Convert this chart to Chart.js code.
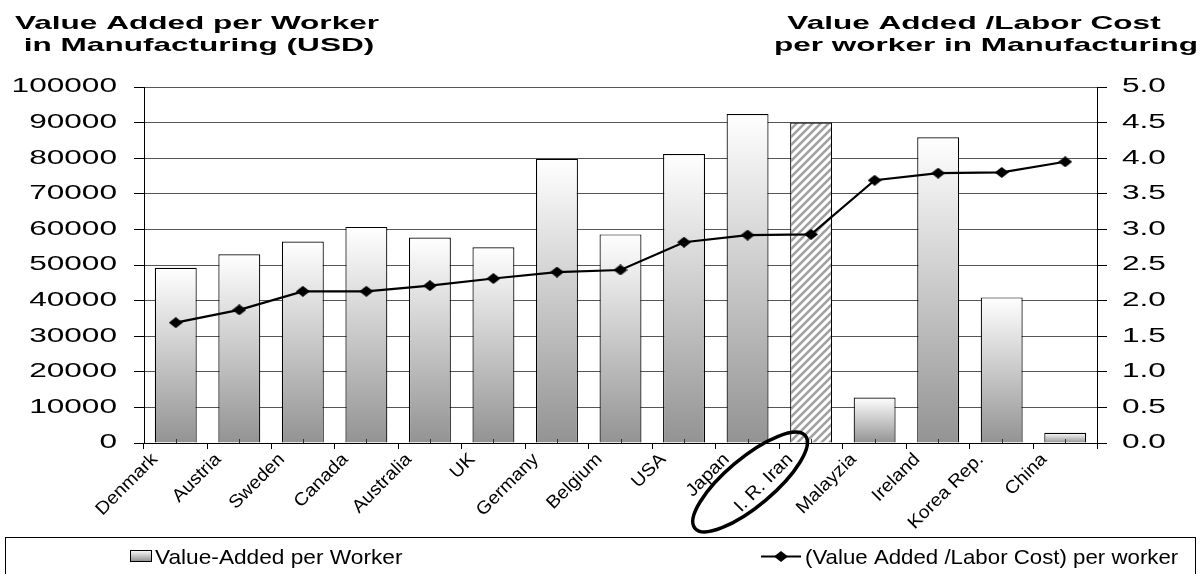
<!DOCTYPE html>
<html><head><meta charset="utf-8">
<script src="https://cdn.jsdelivr.net/npm/chart.js@4.4.1/dist/chart.umd.min.js"></script>
<style>html,body{margin:0;padding:0;background:#fff}#wrap{width:1200px;height:574px;position:relative}</style>
</head><body><div id="wrap"><canvas id="c"></canvas></div>
<script>
const categories = ['Denmark','Austria','Sweden','Canada','Australia','UK','Germany','Belgium','USA','Japan','I. R. Iran','Malayzia','Ireland','Korea Rep.','China'];
const valueAddedPerWorker = [49200,53000,56600,60700,57700,55000,79800,58600,81200,92400,90000,12800,85900,40900,2900];
const valueAddedLaborCostRatio = [1.69,1.87,2.13,2.13,2.21,2.31,2.40,2.43,2.82,2.92,2.93,3.69,3.79,3.80,3.95];
const highlightedCategory = 'I. R. Iran';
const leftAxisTitle = ['Value Added per Worker','in Manufacturing (USD)'];
const rightAxisTitle = ['Value Added /Labor Cost','per worker in Manufacturing'];
const legendLabels = ['Value-Added per Worker','(Value Added /Labor Cost) per worker'];
const leftAxisRange = [0, 100000, 10000];
const rightAxisRange = [0, 5, 0.5];

const FAMILY = '"Liberation Sans", Arial, sans-serif';
const origFill = CanvasRenderingContext2D.prototype.fillText;
const STRETCH = {'19.5': 1.62, '18': 1.08};
function patchCtx(ctx){
  ctx.fillText = function(t, x, y){
    const m = /(\d+(?:\.\d+)?)px/.exec(this.font);
    const sx = m && STRETCH[m[1]];
    if (!sx) return origFill.call(this, t, x, y);
    this.save(); this.translate(x, y); this.scale(sx, 1); origFill.call(this, t, 0, 0); this.restore();
  };
}
function drawText(ctx, text, x, y, font, sx, align){
  ctx.save(); ctx.font = font; ctx.textAlign = align; ctx.textBaseline = 'alphabetic'; ctx.fillStyle = '#000';
  ctx.translate(x, y); ctx.scale(sx, 1); origFill.call(ctx, text, 0, 0); ctx.restore();
}

const canvas = document.getElementById('c');
const cctx = canvas.getContext('2d');

function makeHatch(){
  const c = document.createElement('canvas'); c.width = 8; c.height = 8;
  const g = c.getContext('2d');
  g.fillStyle = '#fff'; g.fillRect(0,0,8,8);
  g.strokeStyle = '#a0a0a0'; g.lineWidth = 2.6;
  g.beginPath();
  g.moveTo(-2,10); g.lineTo(10,-2);
  g.moveTo(-2,2); g.lineTo(2,-2);
  g.moveTo(6,10); g.lineTo(10,6);
  g.stroke();
  return cctx.createPattern(c, 'repeat');
}
const hatch = makeHatch();

function makeDiamond(){
  const c = document.createElement('canvas'); c.width = 14; c.height = 11;
  const g = c.getContext('2d');
  g.fillStyle = '#000'; g.beginPath();
  g.moveTo(0,5.5); g.lineTo(7,0); g.lineTo(14,5.5); g.lineTo(7,11); g.closePath(); g.fill();
  return c;
}
const diamond = makeDiamond();

function barFill(context){
  const chart = context.chart;
  if (context.type !== 'data' || !chart.chartArea) return '#ddd';
  if (categories[context.dataIndex] === highlightedCategory) return hatch;
  const y = chart.scales.y;
  const top = y.getPixelForValue(context.raw), bottom = y.getPixelForValue(0);
  const g = chart.ctx.createLinearGradient(0, top, 0, bottom);
  g.addColorStop(0, '#ffffff');
  g.addColorStop(1, '#939393');
  return g;
}

const decor = {
  id: 'decor',
  beforeInit(chart){ patchCtx(chart.ctx); },
  afterDatasetsDraw(chart){
    // small centre ticks on the category axis (drawn over bar bottoms)
    const ctx = chart.ctx, xs = chart.scales.x, b = chart.chartArea.bottom;
    ctx.save(); ctx.strokeStyle = '#333'; ctx.lineWidth = 1;
    ctx.beginPath();
    categories.forEach((c, i) => { const px = Math.round(xs.getPixelForValue(i)) + 0.5; ctx.moveTo(px, b); ctx.lineTo(px, b - 4); });
    ctx.stroke(); ctx.restore();
  },
  afterDraw(chart){
    const ctx = chart.ctx;
    const tf = 'bold 19px ' + FAMILY;
    drawText(ctx, leftAxisTitle[0], 197, 29, tf, 1.66, 'center');
    drawText(ctx, leftAxisTitle[1], 199, 51, tf, 1.66, 'center');
    drawText(ctx, rightAxisTitle[0], 974, 29, tf, 1.66, 'center');
    drawText(ctx, rightAxisTitle[1], 986, 51, tf, 1.66, 'center');

    // ellipse around highlighted label
    const xs = chart.scales.x;
    const hi = categories.indexOf(highlightedCategory);
    const cx = xs.getPixelForValue(hi) - 61, cy = chart.chartArea.bottom + 39;
    ctx.save();
    ctx.strokeStyle = '#000'; ctx.lineWidth = 3.5;
    ctx.beginPath(); ctx.ellipse(cx, cy, 72, 24, -40*Math.PI/180, 0, Math.PI*2); ctx.stroke();
    ctx.restore();

    // legend
    ctx.save();
    ctx.strokeStyle = '#000'; ctx.lineWidth = 1;
    ctx.strokeRect(5.5, 537.5, 1190, 60);
    const ix = 130, iy = 550, iw = 21, ih = 11;
    const g = ctx.createLinearGradient(0, iy, 0, iy+ih);
    g.addColorStop(0, '#ffffff'); g.addColorStop(1, '#939393');
    ctx.fillStyle = g; ctx.fillRect(ix, iy, iw, ih);
    ctx.strokeRect(ix+0.5, iy+0.5, iw, ih);
    ctx.lineWidth = 2.2;
    ctx.beginPath(); ctx.moveTo(761, 556.5); ctx.lineTo(801, 556.5); ctx.stroke();
    ctx.drawImage(diamond, 781-7, 556.5-5.5);
    ctx.restore();
    const lf = '21px ' + FAMILY;
    drawText(ctx, legendLabels[0], 155, 564, lf, 1.08, 'left');
    drawText(ctx, legendLabels[1], 805, 564, lf, 1.06, 'left');
  }
};

new Chart(canvas, {
  data: {
    labels: categories,
    datasets: [
      {
        type: 'line', label: legendLabels[1], data: valueAddedLaborCostRatio, yAxisID: 'y1', order: 0,
        borderColor: '#000', borderWidth: 2.2, tension: 0,
        pointStyle: diamond, pointRadius: 6, pointHoverRadius: 6
      },
      {
        type: 'bar', label: legendLabels[0], data: valueAddedPerWorker, yAxisID: 'y', order: 1,
        backgroundColor: barFill, borderColor: '#000', borderWidth: 1.2,
        barPercentage: 0.66, categoryPercentage: 1
      }
    ]
  },
  options: {
    responsive: true, maintainAspectRatio: false, animation: false,
    layout: { padding: { top: 87, left: 0, right: 0, bottom: 0 } },
    plugins: { legend: { display: false }, title: { display: false }, tooltip: { enabled: false } },
    scales: {
      x: {
        type: 'category', offset: true,
        grid: { offset: true, drawOnChartArea: false, drawTicks: true, tickLength: 6, tickColor: '#000', lineWidth: 1 },
        border: { color: '#000', width: 1 },
        ticks: { autoSkip: false, minRotation: 45, maxRotation: 45, padding: 0, labelOffset: -21, color: '#000', font: { family: FAMILY, size: 18 } },
        afterFit(s){ s.height = 131; }
      },
      y: {
        position: 'left', min: leftAxisRange[0], max: leftAxisRange[1],
        grid: { color: '#555', lineWidth: 1, tickLength: 10, tickColor: '#000' },
        border: { color: '#000', width: 1 },
        ticks: { stepSize: leftAxisRange[2], padding: 17, color: '#000', font: { family: FAMILY, size: 19.5 }, callback: v => String(v) },
        afterFit(s){ s.width = 144; }
      },
      y1: {
        position: 'right', min: rightAxisRange[0], max: rightAxisRange[1],
        grid: { drawOnChartArea: false, tickLength: 10, tickColor: '#000' },
        border: { color: '#000', width: 1 },
        ticks: { stepSize: rightAxisRange[2], padding: 15, color: '#000', font: { family: FAMILY, size: 19.5 }, callback: v => Number(v).toFixed(1) },
        afterFit(s){ s.width = 103; }
      }
    }
  },
  plugins: [decor]
});
</script>
</body></html>
